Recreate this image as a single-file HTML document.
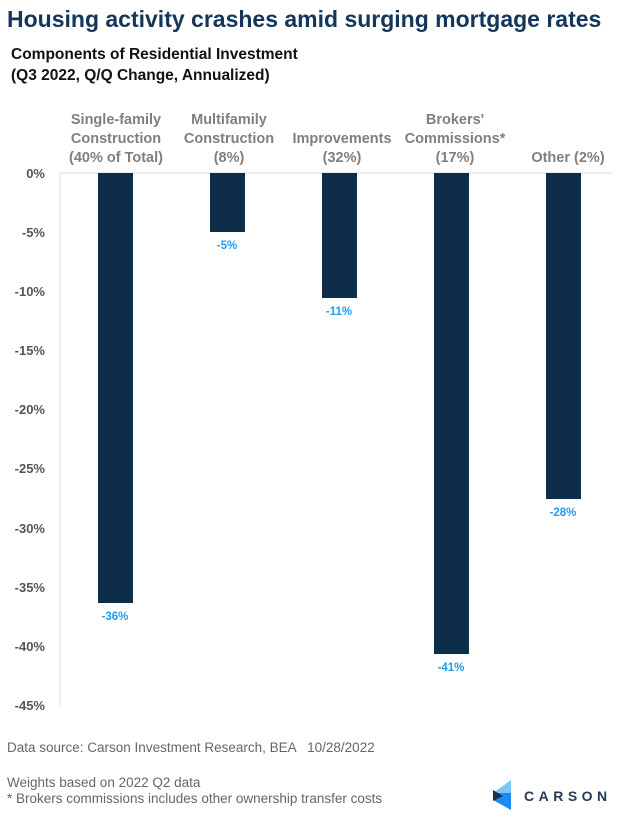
<!DOCTYPE html>
<html><head><style>
body{margin:0;width:622px;height:824px;background:#fff;font-family:"Liberation Sans",Arial,sans-serif;overflow:hidden}
</style></head><body>
<svg width="622" height="824" xmlns="http://www.w3.org/2000/svg" font-family="Liberation Sans, Arial, sans-serif">
<text x="7" y="27" font-size="23" font-weight="bold" fill="#14365a">Housing activity crashes amid surging mortgage rates</text>
<text x="11" y="59" font-size="15.5" font-weight="bold" fill="#111">Components of Residential Investment</text>
<text x="11" y="80" font-size="15.5" font-weight="bold" fill="#111">(Q3 2022, Q/Q Change, Annualized)</text>
<g font-size="14.5" font-weight="bold" fill="#7f7f7f" text-anchor="middle">
<text x="116" y="124">Single-family</text><text x="116" y="143">Construction</text><text x="116" y="162">(40% of Total)</text>
<text x="229" y="124">Multifamily</text><text x="229" y="143">Construction</text><text x="229" y="162">(8%)</text>
<text x="342" y="143">Improvements</text><text x="342" y="162">(32%)</text>
<text x="455" y="124">Brokers'</text><text x="455" y="143">Commissions*</text><text x="455" y="162">(17%)</text>
<text x="568" y="162">Other (2%)</text>
</g>
<g font-size="13" font-weight="bold" fill="#555" text-anchor="end">
<text x="45" y="178">0%</text><text x="45" y="237">-5%</text><text x="45" y="296">-10%</text><text x="45" y="355">-15%</text><text x="45" y="414">-20%</text><text x="45" y="473">-25%</text><text x="45" y="533">-30%</text><text x="45" y="592">-35%</text><text x="45" y="651">-40%</text><text x="45" y="710">-45%</text>
</g>
<line x1="60" y1="173" x2="60" y2="705" stroke="#d9d9d9"/>
<line x1="60" y1="173" x2="612" y2="173" stroke="#d9d9d9"/>
<g fill="#0e2d48">
<rect x="98" y="173" width="35" height="430"/>
<rect x="210" y="173" width="35" height="59"/>
<rect x="322" y="173" width="35" height="125"/>
<rect x="434" y="173" width="35" height="481"/>
<rect x="546" y="173" width="35" height="326"/>
</g>
<g font-size="11.5" font-weight="bold" fill="#1f9cf0" text-anchor="middle">
<text x="115" y="620">-36%</text><text x="227" y="249">-5%</text><text x="339" y="315">-11%</text><text x="451" y="671">-41%</text><text x="563" y="516">-28%</text>
</g>
<text x="7" y="752" font-size="13.5" fill="#666" xml:space="preserve">Data source: Carson Investment Research, BEA   10/28/2022</text>
<text x="7" y="787" font-size="13.5" fill="#666">Weights based on 2022 Q2 data</text>
<text x="7" y="803" font-size="13.5" fill="#666">* Brokers commissions includes other ownership transfer costs</text>
<polygon points="511,780 493,793 511,793" fill="#7cc6f7"/>
<polygon points="493,793 511,793 511,810 493,800" fill="#1a8cf0"/>
<polygon points="493,790 503,796 493,801" fill="#163452"/>
<text x="524" y="801" font-size="14" font-weight="bold" fill="#243a55" letter-spacing="4.5">CARSON</text>
</svg>
</body></html>
